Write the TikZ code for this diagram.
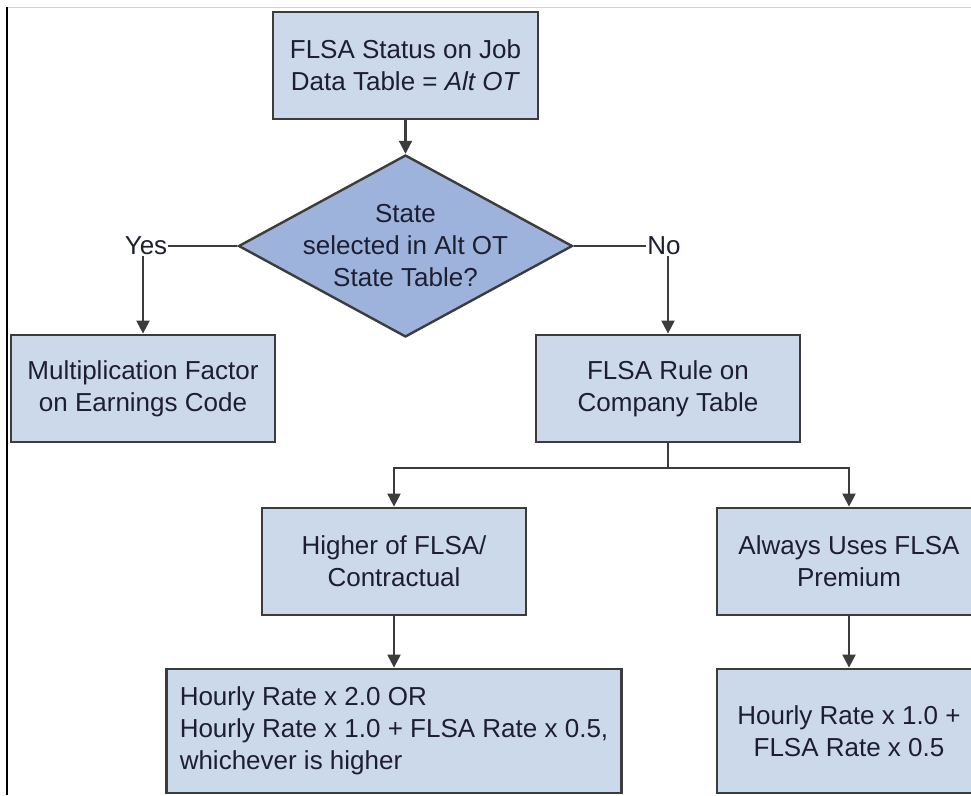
\documentclass[tikz,border=0pt]{standalone}
\usepackage{fontspec}
\setmainfont{Liberation Sans}
\usetikzlibrary{arrows.meta,shapes.geometric}
\definecolor{boxfill}{HTML}{CCD9EB}
\definecolor{diafill}{HTML}{9DB3DB}
\definecolor{edge}{HTML}{3C3C3C}
\definecolor{ink}{HTML}{1E1E32}
\newcommand{\txt}{\fontsize{26}{32}\selectfont}
\tikzset{
  bloc/.style={draw=edge,line width=2.8pt,fill=boxfill,align=center,text=ink,
    minimum width=264pt,minimum height=107pt,inner sep=4pt,font=\txt},
  tall/.style={bloc,minimum height=124pt},
  dec/.style={diamond,draw=edge,line width=2.4pt,fill=diafill,
    minimum width=334pt,minimum height=182pt,inner sep=0pt},
  fl/.style={-{Triangle[length=13pt,width=13pt]},draw=edge,line width=2.2pt},
  ln/.style={draw=edge,line width=2.2pt},
  lbl/.style={text=ink,font=\txt,inner sep=1pt},
}

\begin{document}
\begin{tikzpicture}[x=1pt,y=-1pt]
  \clip (0,0) rectangle (971,795);
  \draw[gray!35,line width=1pt] (7,7) -- (971,7);
  \draw[black,line width=1.5pt] (7,7) -- (7,795);
  \node[bloc,minimum width=265pt] (status) at (405.5,65.5) {FLSA Status on Job\\Data Table = \textit{Alt OT}};
  \node[dec,label={[lbl,align=center]center:State\\selected in Alt OT\\State Table?}] (state) at (405.5,246) {};
  \node[lbl] (yes) at (146,246) {Yes};
  \node[lbl] (no) at (664,246) {No};
  \node[bloc] (mult) at (143,388.5) {Multiplication Factor\\on Earnings Code};
  \node[bloc] (rule) at (668,388.5) {FLSA Rule on\\Company Table};
  \node[bloc] (higher) at (394,561.5) {Higher of FLSA/\\Contractual};
  \node[bloc] (always) at (849,561.5) {Always Uses FLSA\\Premium};
  \node[tall,minimum width=455pt,align=left] (either) at (394,731) {Hourly Rate x 2.0 OR\\Hourly Rate x 1.0 + FLSA Rate x 0.5,\\whichever is higher};
  \node[tall] (prem) at (849,731) {Hourly Rate x 1.0 +\\FLSA Rate x 0.5};
  \coordinate (split) at (668,468);
  \draw[fl] (status) -- (state);
  \draw[ln] (state.west) -- (yes.east);
  \draw[ln] (state.east) -- (no.west);
  \draw[fl] (mult.north |- yes.south) -- (mult);
  \draw[fl] (rule.north |- no.south) -- (rule);
  \draw[ln] (rule) -- (split);
  \draw[fl] (split) -| (higher);
  \draw[fl] (split) -| (always);
  \draw[fl] (higher) -- (either);
  \draw[fl] (always) -- (prem);
\end{tikzpicture}
\end{document}
